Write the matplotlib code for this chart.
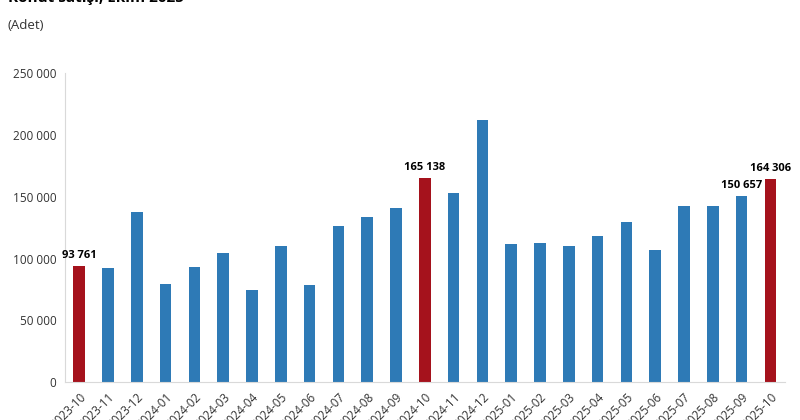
import matplotlib
matplotlib.use("Agg")
import matplotlib.pyplot as plt

months = ["2023-10","2023-11","2023-12","2024-01","2024-02","2024-03","2024-04","2024-05","2024-06",
          "2024-07","2024-08","2024-09","2024-10","2024-11","2024-12","2025-01","2025-02","2025-03",
          "2025-04","2025-05","2025-06","2025-07","2025-08","2025-09","2025-10"]
sales = [93761,92500,137500,79300,93000,104400,74400,110000,78500,126200,133500,140800,165138,
         152900,212000,111600,112500,110000,118100,129400,106800,142400,142400,150657,164306]
highlight = ["2023-10","2024-10","2025-10"]
labeled = {"2023-10":"93 761","2024-10":"165 138","2025-09":"150 657","2025-10":"164 306"}

plt.rcParams['font.family'] = ['Open Sans', 'DejaVu Sans']
fig = plt.figure(figsize=(8, 4.2), dpi=100)
ax = fig.add_axes([0.081, 0.090, 0.900, 0.736])
x = range(len(months))
colors = ["#A5121C" if m in highlight else "#2E7AB6" for m in months]
ax.bar(x, sales, width=0.4, color=colors)
for i, m in enumerate(months):
    if m in labeled:
        ax.text(i, sales[i] + 4000, labeled[m], ha="center", va="bottom", fontsize=8, fontweight="bold")
ax.set_xlim(-0.5, len(months) - 0.5)
ax.set_ylim(0, 250000)
ax.set_yticks(range(0, 250001, 50000))
ax.set_yticklabels([f"{v:,}".replace(",", " ") for v in range(0, 250001, 50000)], fontsize=8.5, color="#333333")
ax.set_xticks(list(x))
ax.set_xticklabels(months, rotation=45, ha="right", rotation_mode="anchor", fontsize=8.5, color="#333333")
ax.tick_params(length=0, pad=6)
for s in ["top", "right"]:
    ax.spines[s].set_visible(False)
for s in ["left", "bottom"]:
    ax.spines[s].set_color("#D9D9D9")
fig.text(0.01, 1.005, "Konut satışı, Ekim 2025", fontsize=11, fontweight="bold", va="center")
fig.text(0.01, 0.94, "(Adet)", fontsize=9.5, color="#333333", va="center")
fig.savefig("out.png", dpi=100)
